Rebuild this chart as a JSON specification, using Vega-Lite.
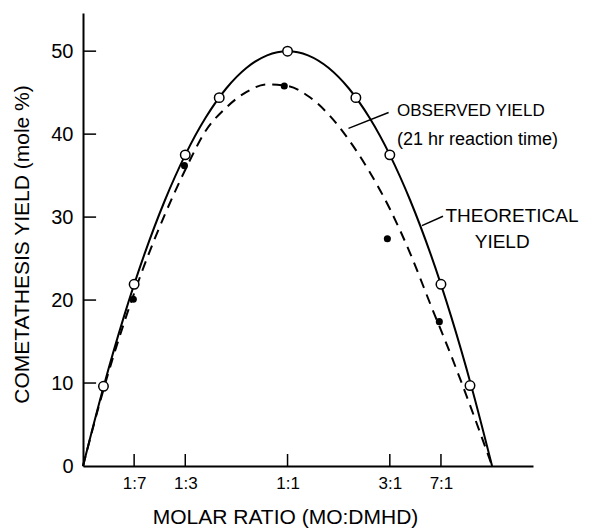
{
  "$schema": "https://vega.github.io/schema/vega-lite/v6.json",
  "width": 450,
  "height": 453,
  "autosize": {"type": "none"},
  "padding": {"left": 83, "top": 13, "right": 59, "bottom": 64},
  "background": "white",
  "config": {
    "view": {"stroke": null},
    "font": "Liberation Sans",
    "axis": {"grid": false, "domainColor": "black", "labelColor": "black", "titleColor": "black", "labelFont": "Liberation Sans", "titleFont": "Liberation Sans", "titleFontWeight": "normal"}
  },
  "resolve": {"axis": {"x": "independent", "y": "independent"}},
  "datasets": {
    "theoretical_curve": [
      {"x": 0, "y": 0}, {"x": 0.05, "y": 9.5}, {"x": 0.1, "y": 18}, {"x": 0.15, "y": 25.5},
      {"x": 0.2, "y": 32}, {"x": 0.25, "y": 37.5}, {"x": 0.3, "y": 42}, {"x": 0.35, "y": 45.5},
      {"x": 0.4, "y": 48}, {"x": 0.45, "y": 49.5}, {"x": 0.5, "y": 50}, {"x": 0.55, "y": 49.5},
      {"x": 0.6, "y": 48}, {"x": 0.65, "y": 45.5}, {"x": 0.7, "y": 42}, {"x": 0.75, "y": 37.5},
      {"x": 0.8, "y": 32}, {"x": 0.85, "y": 25.5}, {"x": 0.9, "y": 18}, {"x": 0.95, "y": 9.5},
      {"x": 1.0, "y": 0}
    ],
    "observed_curve": [
      {"x": 0, "y": 0}, {"x": 0.05, "y": 9.2}, {"x": 0.1, "y": 17.2}, {"x": 0.15, "y": 24.2},
      {"x": 0.2, "y": 30.3}, {"x": 0.25, "y": 35.7}, {"x": 0.3, "y": 40.4}, {"x": 0.35, "y": 43.2},
      {"x": 0.4, "y": 45.1}, {"x": 0.45, "y": 46.0}, {"x": 0.5, "y": 45.8}, {"x": 0.55, "y": 44.6},
      {"x": 0.6, "y": 42.4}, {"x": 0.65, "y": 39.3}, {"x": 0.7, "y": 35.5}, {"x": 0.75, "y": 31.0},
      {"x": 0.8, "y": 25.6}, {"x": 0.85, "y": 19.4}, {"x": 0.9, "y": 13.3}, {"x": 0.95, "y": 6.8},
      {"x": 1.0, "y": 0}
    ],
    "theoretical_points": [
      {"x": 0.05, "y": 9.6}, {"x": 0.125, "y": 21.9}, {"x": 0.25, "y": 37.5}, {"x": 0.333, "y": 44.4},
      {"x": 0.5, "y": 50}, {"x": 0.667, "y": 44.4}, {"x": 0.75, "y": 37.5}, {"x": 0.875, "y": 21.9},
      {"x": 0.946, "y": 9.7}
    ],
    "observed_points": [
      {"x": 0.123, "y": 20.1}, {"x": 0.248, "y": 36.2}, {"x": 0.492, "y": 45.8},
      {"x": 0.744, "y": 27.4}, {"x": 0.871, "y": 17.4}
    ],
    "x_ticks": [{"v": 0.125}, {"v": 0.25}, {"v": 0.5}, {"v": 0.75}, {"v": 0.875}],
    "y_ticks": [{"v": 10}, {"v": 20}, {"v": 30}, {"v": 40}, {"v": 50}]
  },
  "layer": [
    {
      "data": {"name": "theoretical_curve"},
      "mark": {"type": "line", "interpolate": "monotone", "color": "black", "strokeWidth": 2},
      "encoding": {
        "x": {
          "field": "x", "type": "quantitative",
          "scale": {"domain": [0, 1.1], "nice": false, "zero": false},
          "axis": {
            "orient": "bottom",
            "values": [0.125, 0.25, 0.5, 0.75, 0.875],
            "labelExpr": "datum.value == 0.125 ? '1:7' : datum.value == 0.25 ? '1:3' : datum.value == 0.5 ? '1:1' : datum.value == 0.75 ? '3:1' : '7:1'",
            "domainWidth": 2,
            "ticks": false,
            "labelPadding": 9,
            "labelFontSize": 17,
            "title": "MOLAR RATIO  (MO:DMHD)",
            "titleFontSize": 21,
            "titleX": 202,
            "titleY": 51,
            "titleAlign": "center",
            "titleBaseline": "middle"
          }
        },
        "y": {
          "field": "y", "type": "quantitative",
          "scale": {"domain": [0, 54.6], "nice": false, "zero": false},
          "axis": {
            "orient": "left",
            "values": [0, 10, 20, 30, 40, 50],
            "domainWidth": 2,
            "ticks": false,
            "labelPadding": 10,
            "labelFontSize": 20,
            "title": "COMETATHESIS YIELD  (mole %)",
            "titleFontSize": 21,
            "titleX": -61,
            "titleY": 231,
            "titleAngle": -90,
            "titleAlign": "center",
            "titleBaseline": "middle"
          }
        }
      }
    },
    {
      "data": {"name": "x_ticks"},
      "mark": {"type": "rule", "color": "black", "strokeWidth": 1.5},
      "encoding": {
        "x": {"field": "v", "type": "quantitative", "axis": null},
        "y": {"datum": 0, "type": "quantitative", "axis": null},
        "y2": {"datum": 1.45}
      }
    },
    {
      "data": {"name": "y_ticks"},
      "mark": {"type": "rule", "color": "black", "strokeWidth": 1.5},
      "encoding": {
        "y": {"field": "v", "type": "quantitative", "axis": null},
        "x": {"datum": 0, "type": "quantitative", "axis": null},
        "x2": {"datum": 0.032}
      }
    },
    {
      "data": {"name": "observed_curve"},
      "mark": {"type": "line", "interpolate": "monotone", "color": "black", "strokeWidth": 2, "strokeDash": [10, 7]},
      "encoding": {
        "x": {"field": "x", "type": "quantitative", "axis": null},
        "y": {"field": "y", "type": "quantitative", "axis": null}
      }
    },
    {
      "data": {"name": "observed_points"},
      "mark": {"type": "point", "shape": "circle", "filled": true, "color": "black", "opacity": 1, "size": 50},
      "encoding": {
        "x": {"field": "x", "type": "quantitative", "axis": null},
        "y": {"field": "y", "type": "quantitative", "axis": null}
      }
    },
    {
      "data": {"name": "theoretical_points"},
      "mark": {"type": "point", "shape": "circle", "filled": true, "fill": "white", "stroke": "black", "strokeWidth": 1.5, "opacity": 1, "size": 90},
      "encoding": {
        "x": {"field": "x", "type": "quantitative", "axis": null},
        "y": {"field": "y", "type": "quantitative", "axis": null}
      }
    },
    {
      "data": {"values": [{}]},
      "mark": {"type": "rule", "color": "black", "strokeWidth": 1.5},
      "encoding": {
        "x": {"datum": 0.649, "type": "quantitative", "axis": null},
        "y": {"datum": 40.7, "type": "quantitative", "axis": null},
        "x2": {"datum": 0.747},
        "y2": {"datum": 42.6}
      }
    },
    {
      "data": {"values": [{}]},
      "mark": {"type": "rule", "color": "black", "strokeWidth": 1.5},
      "encoding": {
        "x": {"datum": 0.8286, "type": "quantitative", "axis": null},
        "y": {"datum": 28.98, "type": "quantitative", "axis": null},
        "x2": {"datum": 0.88},
        "y2": {"datum": 30.1}
      }
    },
    {
      "data": {"values": [{}]},
      "mark": {"type": "text", "text": "OBSERVED YIELD", "align": "left", "baseline": "middle", "fontSize": 17, "color": "black"},
      "encoding": {
        "x": {"datum": 0.7675, "type": "quantitative", "axis": null},
        "y": {"datum": 42.75, "type": "quantitative", "axis": null}
      }
    },
    {
      "data": {"values": [{}]},
      "mark": {"type": "text", "text": "(21 hr reaction time)", "align": "left", "baseline": "middle", "fontSize": 18, "color": "black"},
      "encoding": {
        "x": {"datum": 0.7675, "type": "quantitative", "axis": null},
        "y": {"datum": 39.34, "type": "quantitative", "axis": null}
      }
    },
    {
      "data": {"values": [{}]},
      "mark": {"type": "text", "text": "THEORETICAL", "align": "center", "baseline": "middle", "fontSize": 19, "color": "black"},
      "encoding": {
        "x": {"datum": 1.0487, "type": "quantitative", "axis": null},
        "y": {"datum": 30.1, "type": "quantitative", "axis": null}
      }
    },
    {
      "data": {"values": [{}]},
      "mark": {"type": "text", "text": "YIELD", "align": "center", "baseline": "middle", "fontSize": 19, "color": "black"},
      "encoding": {
        "x": {"datum": 1.0247, "type": "quantitative", "axis": null},
        "y": {"datum": 26.96, "type": "quantitative", "axis": null}
      }
    }
  ]
}
